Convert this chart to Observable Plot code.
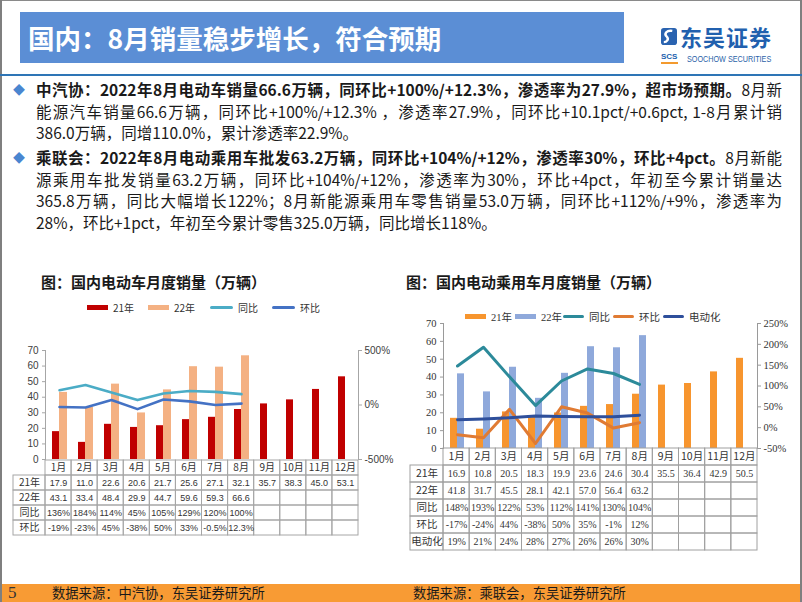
<!DOCTYPE html>
<html><head><meta charset="utf-8">
<script src="https://cdn.jsdelivr.net/npm/d3@7"></script>
<script src="https://cdn.jsdelivr.net/npm/@observablehq/plot@0.6"></script>
<style>
html,body{margin:0;padding:0;background:#fff;}
#slide{position:relative;width:802px;height:602px;overflow:hidden;background:#fff;font-family:"Noto Sans CJK SC","Noto Sans",sans-serif;color:#1a1a1a;}
.abs{position:absolute;}
.line{position:absolute;left:36px;width:746px;height:21.5px;line-height:21.5px;font-size:15.5px;white-space:nowrap;color:#1a1a1a;}
.just{text-align:justify;text-align-last:justify;}
.bullet{position:absolute;left:13px;font-size:12px;color:#4A86D0;line-height:21.5px;}
.ptitle{position:absolute;font-size:15px;font-weight:bold;color:#1a1a1a;line-height:20px;white-space:nowrap;}
.leg{position:absolute;display:flex;align-items:center;white-space:nowrap;}
.leg span.sw{display:inline-block;margin-right:5px;}
svg.plot{overflow:visible;}
</style></head>
<body><div id="slide">
  <!-- frame -->
  <div class="abs" style="left:0;top:0;width:802px;height:1px;background:#8a8a8a"></div>
  <div class="abs" style="left:0;top:0;width:2px;height:602px;background:#7f7f7f"></div>
  <div class="abs" style="left:800px;top:0;width:2px;height:602px;background:#7f7f7f"></div>
  <!-- header -->
  <div class="abs" style="left:20px;top:12px;width:604px;height:51px;background:#5B8ED5"></div>
  <div class="abs" style="left:28px;top:20px;height:36px;line-height:36px;font-size:26.5px;font-weight:bold;color:#fff;white-space:nowrap">国内：8月销量稳步增长，符合预期</div>
  <!-- logo -->
  <svg class="abs" style="left:661px;top:28px" width="16" height="17" viewBox="0 0 17 18">
    <rect x="0" y="0" width="17" height="18" rx="3" fill="#2A63B0"/>
    <path d="M12 3 C6 2 3 6 6 9 C9 12 6 15 3 15" stroke="#fff" stroke-width="2.6" fill="none"/>
  </svg>
  <div class="abs" style="left:680px;top:22px;font-size:22px;font-weight:bold;color:#2160AE;line-height:28px;letter-spacing:1px;white-space:nowrap">东吴证券</div>
  <div class="abs" style="left:661px;top:52px;font-size:8px;font-weight:bold;color:#2160AE;line-height:10px;font-family:'Liberation Sans',sans-serif">SCS</div>
  <div class="abs" style="left:661px;top:62px;width:17px;height:2px;background:#F39A2E"></div>
  <div class="abs" style="left:687px;top:53px;font-size:9.5px;color:#2A62A8;line-height:12px;font-family:'Liberation Sans',sans-serif;white-space:nowrap;transform:scaleX(0.76);transform-origin:0 50%">SOOCHOW SECURITIES</div>
  <div class="abs" style="left:0;top:74px;width:802px;height:2px;background:#2E75B6"></div>

  <!-- text block -->
  <div class="bullet" style="top:79px">◆</div>
  <div class="line just" style="top:79px"><b>中汽协：2022年8月电动车销量66.6万辆，同环比+100%/+12.3%，渗透率为27.9%，超市场预期。</b>8月新</div>
  <div class="line just" style="top:100.5px">能源汽车销量66.6万辆，同环比+100%/+12.3% ，渗透率27.9%，同环比+10.1pct/+0.6pct, 1-8月累计销</div>
  <div class="line" style="top:122px">386.0万辆，同增110.0%，累计渗透率22.9%。</div>
  <div class="bullet" style="top:147px">◆</div>
  <div class="line just" style="top:147px"><b>乘联会：2022年8月电动乘用车批发63.2万辆，同环比+104%/+12%，渗透率30%，环比+4pct。</b>8月新能</div>
  <div class="line just" style="top:168.5px">源乘用车批发销量63.2万辆，同环比+104%/+12%，渗透率为30%，环比+4pct，年初至今累计销量达</div>
  <div class="line just" style="top:190px">365.8万辆，同比大幅增长122%；8月新能源乘用车零售销量53.0万辆，同环比+112%/+9%，渗透率为</div>
  <div class="line" style="top:211.5px">28%，环比+1pct，年初至今累计零售325.0万辆，同比增长118%。</div>

  <!-- panel titles -->
  <div class="ptitle" style="left:41px;top:272px">图：国内电动车月度销量（万辆）</div>
  <div class="ptitle" style="left:406px;top:272px">图：国内电动乘用车月度销量（万辆）</div>

  <div id="legL"></div>
  <div id="legR"></div>

  <div id="chartL" class="abs" style="left:0;top:335px"></div>
  <div id="tableL" class="abs" style="left:0;top:459px"></div>
  <div id="chartR" class="abs" style="left:400px;top:308px"></div>
  <div id="tableR" class="abs" style="left:400px;top:448px"></div>

  <!-- footer -->
  <div class="abs" style="left:2px;top:584px;width:798px;height:18px;background:#F89B34"></div>
  <div class="abs" style="left:8px;top:584px;line-height:18px;font-size:17px;font-family:'Liberation Serif',serif;color:#333">5</div>
  <div class="abs" style="left:52px;top:584px;line-height:18px;font-size:13.3px;color:#1a1a1a;white-space:nowrap">数据来源：中汽协，东吴证券研究所</div>
  <div class="abs" style="left:413px;top:584px;line-height:18px;font-size:13.3px;color:#1a1a1a;white-space:nowrap">数据来源：乘联会，东吴证券研究所</div>
</div>
<script>
// ---------- data ----------
const months = ["1月","2月","3月","4月","5月","6月","7月","8月","9月","10月","11月","12月"];

// 中汽协 (left)
const caamSeries = ["21年","22年","同比","环比"];
const caamSales21 = [17.9, 11.0, 22.6, 20.6, 21.7, 25.6, 27.1, 32.1, 35.7, 38.3, 45.0, 53.1];
const caamSales22 = [43.1, 33.4, 48.4, 29.9, 44.7, 59.6, 59.3, 66.6];
const caamYoY = [136, 184, 114, 45, 105, 129, 120, 100];
const caamMoM = [-19, -23, 45, -38, 50, 33, -0.5, 12.3];
const caamLeftTicks = [0, 10, 20, 30, 40, 50, 60, 70];
const caamRightTicks = [-500, 0, 500];

// 乘联会 (right)
const cpcaSeries = ["21年","22年","同比","环比","电动化"];
const cpcaSales21 = [16.9, 10.8, 20.5, 18.3, 19.9, 23.6, 24.6, 30.4, 35.5, 36.4, 42.9, 50.5];
const cpcaSales22 = [41.8, 31.7, 45.5, 28.1, 42.1, 57.0, 56.4, 63.2];
const cpcaYoY = [148, 193, 122, 53, 112, 141, 130, 104];
const cpcaMoM = [-17, -24, 44, -38, 50, 35, -1, 12];
const cpcaPen = [19, 21, 24, 28, 27, 26, 26, 30];
const cpcaLeftTicks = [0, 10, 20, 30, 40, 50, 60, 70];
const cpcaRightTicks = [-50, 0, 50, 100, 150, 200, 250];

// ---------- styles ----------
const L = {sales21:"#C00000", sales22:"#F4B183", yoy:"#4BACC6", mom:"#4472C4"};
const R = {sales21:"#F7952E", sales22:"#8FA9DB", yoy:"#2C8A9A", mom:"#E07B33", pen:"#2E4F9B"};

function dualChart(cfg) {
  const [pMin, pMax] = cfg.pctDomain;
  const toL = p => (p - pMin) / (pMax - pMin) * cfg.yMax;
  const fromL = v => v / cfg.yMax * (pMax - pMin) + pMin;
  const marks = [];
  cfg.bars.forEach(b => {
    const data = b.values.map((v, i) => ({m: months[i], v}));
    marks.push(Plot.barY(data, {x: "m", y: "v", fill: b.color, insetLeft: b.insetLeft, insetRight: b.insetRight}));
  });
  cfg.lines.forEach(l => {
    const data = l.values.map((v, i) => ({m: months[i], v}));
    marks.push(Plot.line(data, {x: "m", y: d => toL(d.v), stroke: l.color, strokeWidth: l.width, strokeLinejoin: "round", strokeLinecap: "round"}));
  });
  marks.push(Plot.frame({anchor: "left", stroke: cfg.axisColor}));
  marks.push(Plot.frame({anchor: "right", stroke: cfg.axisColor}));
  marks.push(Plot.axisY(cfg.leftTicks, {anchor: "left", tickSize: 3, tickPadding: 4, stroke: cfg.axisColor, fill: cfg.textColor, label: null, fontSize: cfg.fontSize}));
  marks.push(Plot.axisY(cfg.rightTicks.map(toL), {anchor: "right", tickSize: 3, tickPadding: 3, stroke: cfg.axisColor, fill: cfg.textColor, label: null, fontSize: cfg.fontSize,
    tickFormat: v => Math.round(fromL(v)) + "%"}));
  return Plot.plot({
    width: cfg.width, height: cfg.height,
    marginLeft: cfg.ml, marginRight: cfg.mr, marginTop: cfg.mt, marginBottom: cfg.mb,
    x: {type: "band", domain: months, padding: 0, axis: null},
    y: {domain: [0, cfg.yMax], axis: null},
    style: {background: "transparent", overflow: "visible", fontFamily: cfg.font, fontSize: cfg.fontSize + "px"},
    marks
  });
}

function tableChart(cfg) {
  const rowKeys = ["head", ...cfg.rows.map(r => r.label)];
  const headCells = months.map((m, i) => ({row: "head", i, text: m}));
  const bodyCells = cfg.rows.flatMap(r => months.map((m, i) => ({row: r.label, i, text: r.values[i] ?? ""})));
  const all = headCells.concat(bodyCells);
  const labelCells = cfg.rows.map(r => ({row: r.label, text: r.label}));
  return Plot.plot({
    width: cfg.width, height: cfg.height,
    marginLeft: cfg.ml, marginRight: cfg.mr, marginTop: 0, marginBottom: 1,
    x: {type: "linear", domain: [-cfg.labW, 12], axis: null},
    y: {type: "band", domain: rowKeys, padding: 0, axis: null},
    style: {background: "transparent", overflow: "visible", fontFamily: cfg.font, fontSize: cfg.fontSize + "px"},
    marks: [
      Plot.barX(all, {x1: d => d.i, x2: d => d.i + 1, y: "row", fill: "none", stroke: cfg.grid, strokeWidth: 1}),
      Plot.barX(labelCells, {x1: -cfg.labW, x2: 0, y: "row", fill: "none", stroke: cfg.grid, strokeWidth: 1}),
      Plot.text(headCells, {x: d => d.i + 0.5, y: "row", text: "text", fill: cfg.textColor, fontFamily: cfg.labelFont, fontSize: cfg.labelSize}),
      Plot.text(bodyCells, {x: d => d.i + 0.5, y: "row", text: "text", fill: cfg.textColor}),
      Plot.text(labelCells, {x: -cfg.labW / 2, y: "row", text: "text", fill: cfg.textColor, fontFamily: cfg.labelFont, fontSize: cfg.labelSize})
    ]
  });
}

const pct = v => v + "%";

// ---------- left ----------
document.getElementById("chartL").append(dualChart({
  width: 400, height: 125, ml: 45, mr: 42, mt: 15, mb: 1, yMax: 70, pctDomain: [-500, 500],
  bars: [
    {values: caamSales21, color: L.sales21, insetLeft: 6, insetRight: 13},
    {values: caamSales22, color: L.sales22, insetLeft: 13, insetRight: 5}
  ],
  lines: [
    {values: caamYoY, color: L.yoy, width: 2.6},
    {values: caamMoM, color: L.mom, width: 2.6}
  ],
  leftTicks: caamLeftTicks, rightTicks: caamRightTicks,
  axisColor: "#A6A6A6", textColor: "#404040", font: "'Liberation Sans', Arial, sans-serif", fontSize: 10
}));
document.getElementById("tableL").append(tableChart({
  width: 400, height: 77, ml: 13, mr: 42, labW: 32 / (313 / 12),
  rows: [
    {label: "21年", values: caamSales21.map(v => v.toFixed(1))},
    {label: "22年", values: caamSales22.map(v => v.toFixed(1))},
    {label: "同比", values: caamYoY.map(pct)},
    {label: "环比", values: caamMoM.map(pct)}
  ],
  grid: "#A6A6A6", textColor: "#333", font: "'Liberation Sans', sans-serif", fontSize: 9,
  labelFont: "'Noto Sans CJK SC', sans-serif", labelSize: 10
}));

// ---------- right ----------
document.getElementById("chartR").append(dualChart({
  width: 402, height: 141, ml: 43, mr: 45, mt: 15, mb: 1, yMax: 70, pctDomain: [-50, 250],
  bars: [
    {values: cpcaSales21, color: R.sales21, insetLeft: 6, insetRight: 13},
    {values: cpcaSales22, color: R.sales22, insetLeft: 13, insetRight: 6}
  ],
  lines: [
    {values: cpcaYoY, color: R.yoy, width: 3},
    {values: cpcaMoM, color: R.mom, width: 3},
    {values: cpcaPen, color: R.pen, width: 3}
  ],
  leftTicks: cpcaLeftTicks, rightTicks: cpcaRightTicks,
  axisColor: "#9a9a9a", textColor: "#333", font: "'Liberation Serif', 'Times New Roman', serif", fontSize: 10.5
}));
document.getElementById("tableR").append(tableChart({
  width: 402, height: 103, ml: 10, mr: 45, labW: 33 / (314 / 12),
  rows: [
    {label: "21年", values: cpcaSales21.map(v => v.toFixed(1))},
    {label: "22年", values: cpcaSales22.map(v => v.toFixed(1))},
    {label: "同比", values: cpcaYoY.map(pct)},
    {label: "环比", values: cpcaMoM.map(pct)},
    {label: "电动化", values: cpcaPen.map(pct)}
  ],
  grid: "#A0A0A0", textColor: "#333", font: "'Liberation Serif', serif", fontSize: 10,
  labelFont: "'Noto Sans CJK SC', sans-serif", labelSize: 10.5
}));

// ---------- legends ----------
function legend(host, items, top, font, size) {
  const el = document.getElementById(host);
  items.forEach(it => {
    const d = document.createElement("div");
    d.className = "leg";
    d.style.left = it.x + "px";
    d.style.top = (top - 8) + "px";
    d.style.height = "16px";
    d.style.fontSize = size + "px";
    d.style.fontFamily = font;
    d.style.color = "#333";
    const sw = document.createElement("span");
    sw.className = "sw";
    sw.style.width = it.w + "px";
    sw.style.height = (it.type === "bar" ? 5 : 3) + "px";
    sw.style.background = it.color;
    sw.style.borderRadius = it.type === "bar" ? "0" : "1.5px";
    d.append(sw, document.createTextNode(it.name));
    el.append(d);
  });
}
const legXL = [87, 148, 210, 272];
legend("legL", caamSeries.map((name, i) => ({
  name, x: legXL[i], w: i < 2 ? 21 : 23, type: i < 2 ? "bar" : "line",
  color: [L.sales21, L.sales22, L.yoy, L.mom][i]
})), 307, "'Noto Sans CJK SC', sans-serif", 10);
const legXR = [465, 515, 563, 613, 663];
legend("legR", cpcaSeries.map((name, i) => ({
  name, x: legXR[i], w: 21, type: i < 2 ? "bar" : "line",
  color: [R.sales21, R.sales22, R.yoy, R.mom, R.pen][i]
})), 316, "'Liberation Serif', 'Noto Sans CJK SC', serif", 10.5);
</script>
</body></html>
